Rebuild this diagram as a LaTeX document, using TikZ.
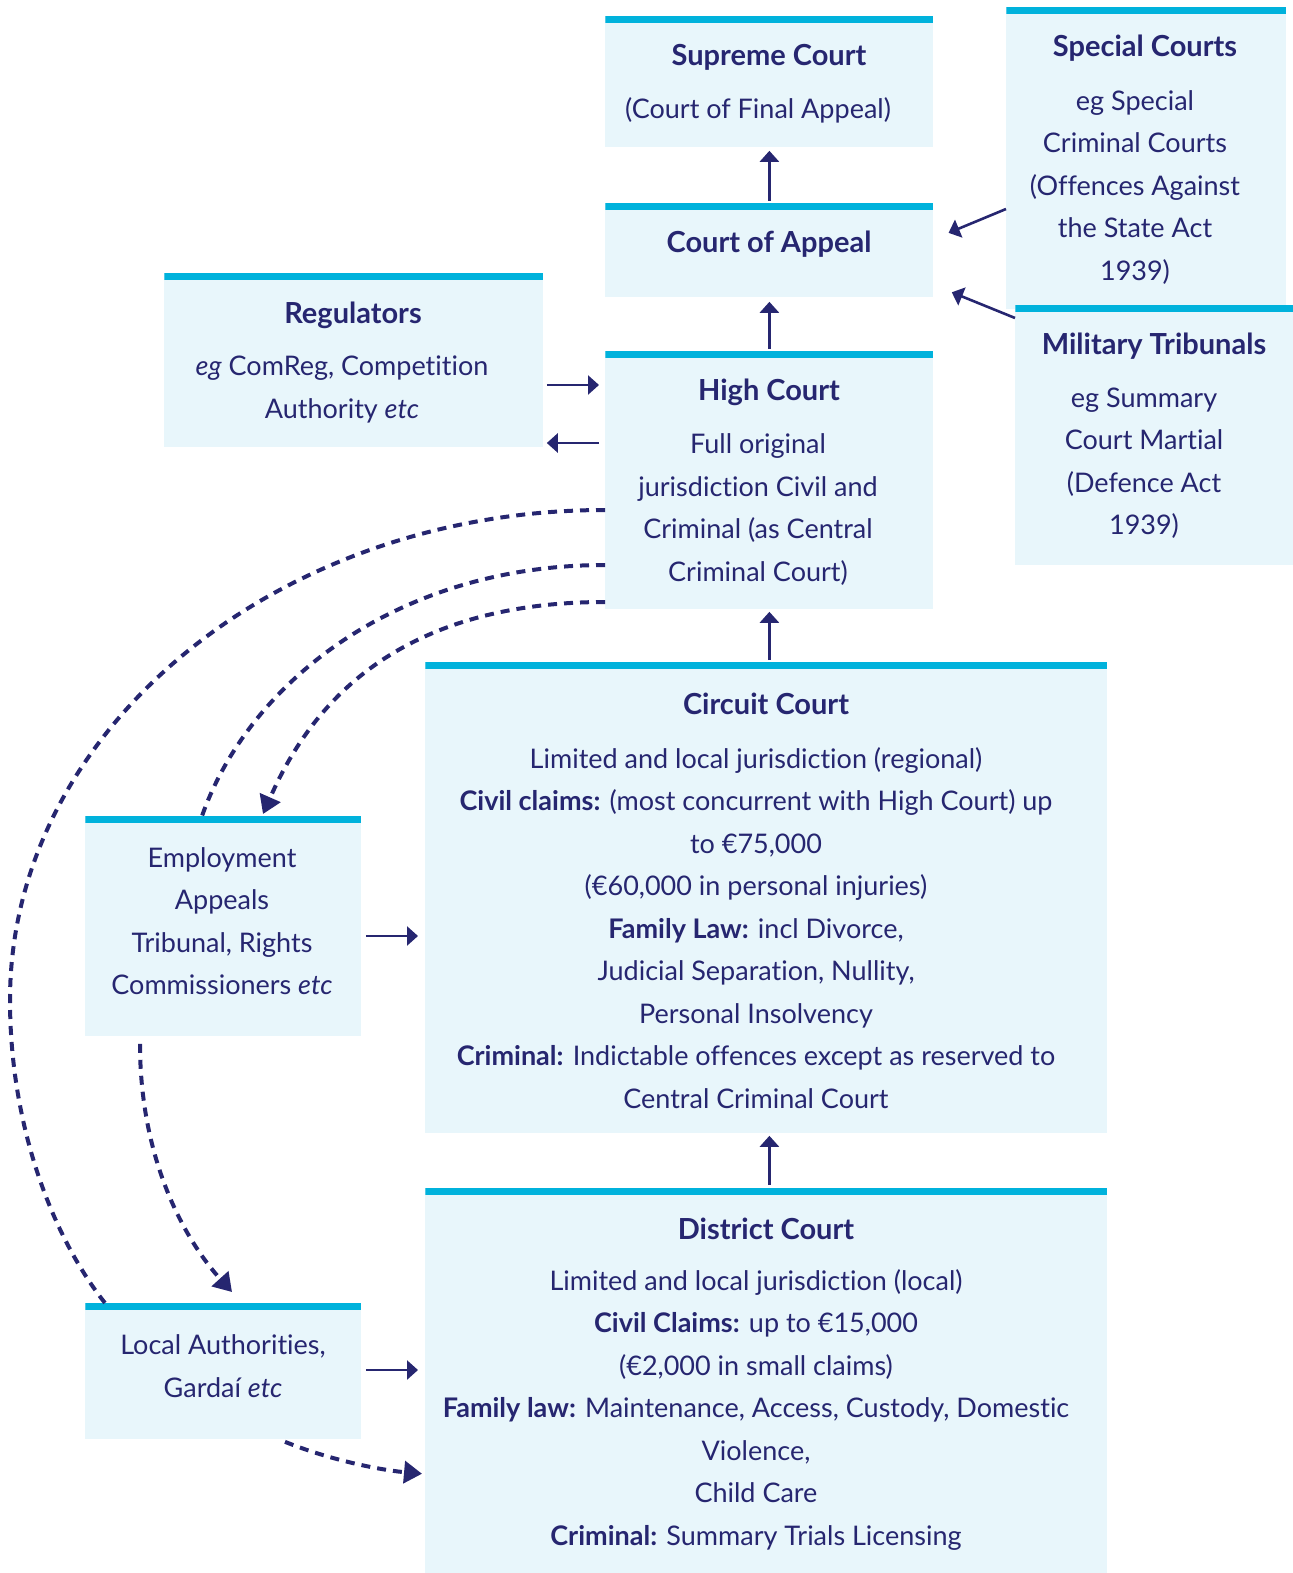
\documentclass[tikz,border=0pt]{standalone}
\usepackage{fontspec}
\setmainfont{Lato}[Ligatures=NoCommon]
\usetikzlibrary{arrows.meta}

\definecolor{navy}{RGB}{38,38,112}
\definecolor{barcyan}{RGB}{0,178,220}
\definecolor{boxfill}{RGB}{232,246,251}

\tikzset{
  court/.style={fill=boxfill, inner sep=0pt, anchor=north west,
    path picture={\fill[barcyan] (path picture bounding box.north west)
      rectangle ([yshift=-3.5pt]path picture bounding box.north east);}},
  head/.style={text=navy, inner sep=0pt, font=\fontsize{14.5}{17}\selectfont\bfseries},
  body/.style={text=navy, inner sep=0pt, align=center, font=\fontsize{13.5}{21.25}\selectfont},
  arr/.style={draw=navy, line width=1.3pt, -{Triangle[width=9.5pt,length=5.5pt]}},
  dots/.style={draw=navy, line width=2pt, dash pattern=on 4.5pt off 3.5pt},
  dotarr/.style={dots, -{Triangle[width=11pt,length=9pt]}}
}

\begin{document}
\begin{tikzpicture}[x=0.5pt, y=-0.5pt]
\useasboundingbox (0,0) rectangle (1293,1573);

% boxes
\node[court, minimum width=164pt, minimum height=65.5pt] (sup) at (605,16) {};
\node[court, minimum width=164pt, minimum height=47pt] (coa) at (605,203) {};
\node[court, minimum width=164pt, minimum height=129pt] (high) at (605,351) {};
\node[court, minimum width=189.5pt, minimum height=87pt] (reg) at (164,273) {};
\node[court, minimum width=140pt, minimum height=151pt] (spec) at (1006,7) {};
\node[court, minimum width=139pt, minimum height=130pt] (mil) at (1015,305) {};
\node[court, minimum width=341pt, minimum height=235.5pt] (circ) at (425,662) {};
\node[court, minimum width=341pt, minimum height=192.5pt] (dist) at (425,1188) {};
\node[court, minimum width=138pt, minimum height=110pt] (emp) at (85,816) {};
\node[court, minimum width=138pt, minimum height=68pt] (loc) at (85,1303) {};

% texts
\node[head] (suphead) at (769,57) {Supreme Court};
\node[body] (supbody) at (758,110) {(Court of Final Appeal)};
\node[head] (coahead) at (769,244) {Court of Appeal};
\node[head] (highhead) at (769,392) {High Court};
\node[body] (highbody) at (758,509.5) {Full original\\jurisdiction Civil and\\Criminal (as Central\\Criminal Court)};
\node[head] (reghead) at (353,315) {Regulators};
\node[body] (regbody) at (342,389.5) {\textit{eg} ComReg, Competition\\Authority \textit{etc}};
\node[head] (spechead) at (1145,48) {Special Courts};
\node[body] (specbody) at (1135,187.5) {eg Special\\Criminal Courts\\(Offences Against\\the State Act\\1939)};
\node[head] (milhead) at (1154,346) {Military Tribunals};
\node[body] (milbody) at (1144,463) {eg Summary\\Court Martial\\(Defence Act\\1939)};
\node[head] (circhead) at (766,704) {Circuit Court};
\node[body] (circbody) at (756,928) {Limited and local jurisdiction (regional)\\
  \textbf{Civil claims:} (most concurrent with High Court) up\\to €75,000\\
  (€60,000 in personal injuries)\\\textbf{Family Law:} incl Divorce,\\
  Judicial Separation, Nullity,\\Personal Insolvency\\
  \textbf{Criminal:} Indictable offences except as reserved to\\Central Criminal Court};
\node[head] (disthead) at (766,1229) {District Court};
\node[body] (distbody) at (756,1409.5) {Limited and local jurisdiction (local)\\
  \textbf{Civil Claims:} up to €15,000\\(€2,000 in small claims)\\
  \textbf{Family law:} Maintenance, Access, Custody, Domestic\\Violence,\\Child Care\\
  \textbf{Criminal:} Summary Trials Licensing};
\node[body] (empbody) at (222,921) {Employment\\Appeals\\Tribunal, Rights\\Commissioners \textit{etc}};
\node[body] (locbody) at (223,1366) {Local Authorities,\\Gardaí \textit{etc}};

% appeals upwards
\draw[arr, shorten <=1pt, shorten >=1.5pt] (coa.north) -- (sup.south);
\draw[arr, shorten <=1pt, shorten >=2pt] (high.north) -- (coa.south);
\draw[arr, shorten <=1pt, shorten >=1pt] (high.south |- circ.north) -- (high.south);
\draw[arr, shorten <=1.5pt, shorten >=1pt] (high.south |- dist.north) -- (high.south |- circ.south);
\draw[arr, shorten >=8pt] (spec.west |- 0,209) -- (coa.east |- 0,239);
\draw[arr, shorten >=9.7pt] (mil.west |- 0,318) -- (coa.east |- 0,285);

% side arrows
\draw[arr, shorten <=1.5pt, shorten >=3pt] (reg.east |- 0,385) -- (high.west |- 0,385);
\draw[arr, shorten <=3pt, shorten >=1.5pt] (high.west |- 0,443) -- (reg.east |- 0,443);
\draw[arr, shorten <=2pt, shorten >=3.5pt] (emp.east |- 0,936) -- (circ.west |- 0,936);
\draw[arr, shorten <=2pt, shorten >=3.5pt] (loc.east |- 0,1370) -- (dist.west |- 0,1370);

% dotted routes
\draw[dots] (high.west |- 0,510) .. controls (277,510) and (10,730) .. (10,1000)
  .. controls (10,1130) and (55,1240) .. ([xshift=10pt]loc.north west);
\draw[dots] (high.west |- 0,565) .. controls (400,565) and (250,680) .. ([xshift=58.5pt]emp.north west);
\draw[dotarr] (high.west |- 0,602) .. controls (380,602) and (303,723) .. ([xshift=89pt,yshift=1pt]emp.north west);
\draw[dotarr] ([xshift=27.5pt,yshift=-3.5pt]emp.south west) .. controls (140,1160) and (185,1240) .. ([xshift=73.5pt,yshift=5.5pt]loc.north west);
\draw[dotarr, shorten >=1.5pt] ([xshift=100pt,yshift=-1pt]loc.south west) .. controls (330,1460) and (380,1470) .. (dist.west |- 0,1474);
\end{tikzpicture}
\end{document}
